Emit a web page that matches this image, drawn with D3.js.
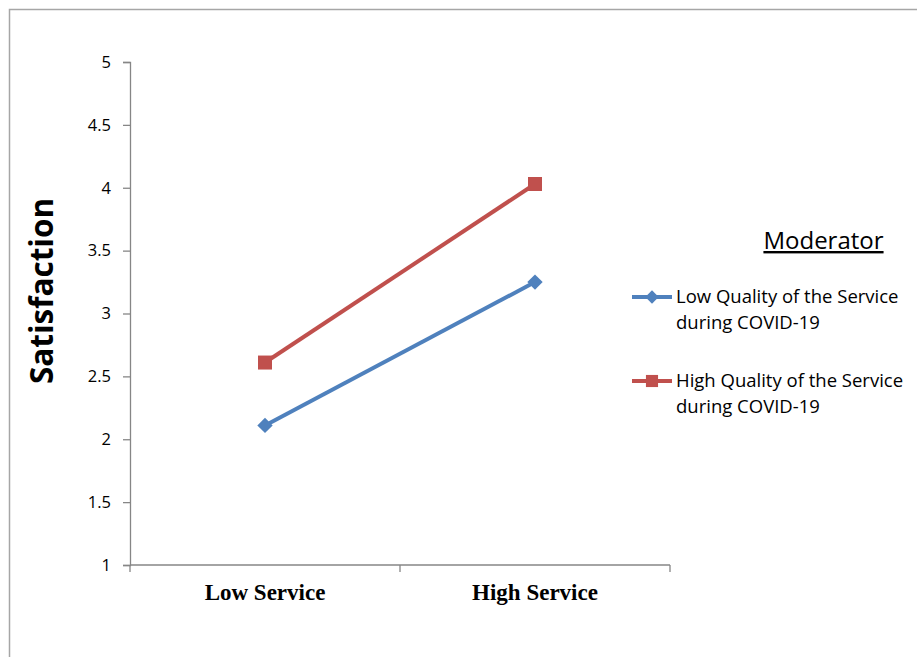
<!DOCTYPE html>
<html>
<head>
<meta charset="utf-8">
<script src="https://cdn.jsdelivr.net/npm/d3@7"></script>
<style>
  body { margin: 0; background: #fff; }
  svg { display: block; }
</style>
</head>
<body>
<svg id="chart" width="917" height="657"></svg>
<script>
// Interaction plot: satisfaction by service level, split by moderator
const categories = ["Low Service", "High Service"];
const seriesNames = [
  ["Low Quality of the Service", "during COVID-19"],
  ["High Quality of the Service", "during COVID-19"]
];
const lowQualityValues = [2.11, 3.25];
const highQualityValues = [2.61, 4.03];
const yTicks = [1, 1.5, 2, 2.5, 3, 3.5, 4, 4.5, 5];
const seriesColors = ["#4F81BD", "#C0504D"];
const seriesSymbols = [d3.symbolDiamond2, d3.symbolSquare];

const series = [
  { name: seriesNames[0], values: lowQualityValues, color: seriesColors[0], symbol: seriesSymbols[0], size: 150 },
  { name: seriesNames[1], values: highQualityValues, color: seriesColors[1], symbol: seriesSymbols[1], size: 196 }
];

const svg = d3.select("#chart");
const axisColor = "#868686";
const sans = "'Open Sans', 'Noto Sans', sans-serif";

// outer frame (left and top edges)
svg.append("path")
  .attr("d", "M9.5,657 V9.5 H917")
  .attr("fill", "none")
  .attr("stroke", "#a6a6a6")
  .attr("stroke-width", 1.5);

const plot = { left: 130, right: 670, top: 62, bottom: 565 };

const x = d3.scaleBand().domain(categories).range([plot.left, plot.right]);
const y = d3.scaleLinear().domain([1, 5]).range([plot.bottom, plot.top]);

// y axis
const yAxis = svg.append("g")
  .attr("transform", `translate(${plot.left},0)`)
  .call(d3.axisLeft(y).tickValues(yTicks).tickSize(7).tickPadding(12).tickFormat(d3.format("")));
yAxis.select(".domain").attr("stroke", axisColor).attr("stroke-width", 1.3);
yAxis.selectAll(".tick line").attr("stroke", axisColor).attr("stroke-width", 1.3);
yAxis.selectAll(".tick text")
  .attr("fill", "#000")
  .style("font-family", sans)
  .style("font-size", "16.5px");

// x axis with tick marks at category boundaries
const xAxisG = svg.append("g").attr("transform", `translate(0,${plot.bottom})`);
xAxisG.append("line")
  .attr("x1", plot.left).attr("x2", plot.right)
  .attr("stroke", axisColor).attr("stroke-width", 1.3);
const boundaries = [plot.left].concat(categories.map(c => x(c) + x.bandwidth()));
xAxisG.selectAll("line.tick")
  .data(boundaries)
  .join("line")
  .attr("class", "tick")
  .attr("x1", d => d).attr("x2", d => d)
  .attr("y1", 0).attr("y2", 7)
  .attr("stroke", axisColor).attr("stroke-width", 1.3);
xAxisG.selectAll("text")
  .data(categories)
  .join("text")
  .attr("x", d => x(d) + x.bandwidth() / 2)
  .attr("y", 35)
  .attr("text-anchor", "middle")
  .style("font-family", "'Liberation Serif', 'Times New Roman', serif")
  .style("font-weight", "bold")
  .style("font-size", "23px")
  .text(d => d);

// y axis title
svg.append("text")
  .attr("transform", "translate(53,291) rotate(-90)")
  .attr("text-anchor", "middle")
  .style("font-family", sans)
  .style("font-weight", "bold")
  .style("font-size", "31.5px")
  .text("Satisfaction");

// lines and markers
const line = d3.line()
  .x((d, i) => x(categories[i]) + x.bandwidth() / 2)
  .y(d => y(d));

series.forEach(s => {
  svg.append("path")
    .datum(s.values)
    .attr("d", line)
    .attr("fill", "none")
    .attr("stroke", s.color)
    .attr("stroke-width", 4)
    .attr("stroke-linejoin", "round");
  svg.selectAll(null)
    .data(s.values)
    .join("path")
    .attr("transform", (d, i) => `translate(${x(categories[i]) + x.bandwidth() / 2},${y(d)})`)
    .attr("d", d3.symbol(s.symbol, s.size))
    .attr("fill", s.color);
});

// legend
const legend = svg.append("g");
legend.append("text")
  .attr("x", 823.5).attr("y", 249)
  .attr("text-anchor", "middle")
  .style("font-family", sans)
  .style("font-size", "24px")
  .style("text-decoration", "underline")
  .text("Moderator");

const legendRowY = [297, 381];
series.forEach((s, i) => {
  const g = legend.append("g").attr("transform", `translate(0,${legendRowY[i]})`);
  g.append("line")
    .attr("x1", 632).attr("x2", 672)
    .attr("stroke", s.color).attr("stroke-width", 4);
  g.append("path")
    .attr("transform", "translate(652,0)")
    .attr("d", d3.symbol(s.symbol, s.size * 0.75))
    .attr("fill", s.color);
  g.selectAll("text")
    .data(s.name)
    .join("text")
    .attr("x", 676)
    .attr("y", (d, j) => 6 + j * 26)
    .style("font-family", sans)
    .style("font-size", "18.5px")
    .text(d => d);
});
</script>
</body>
</html>
